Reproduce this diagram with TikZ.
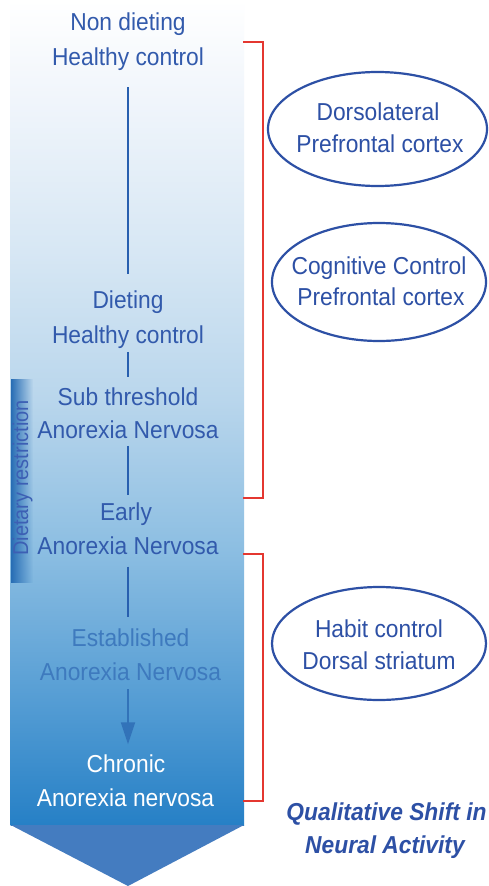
\documentclass[tikz,border=0pt]{standalone}
\usepackage{fontspec}
\setmainfont{Liberation Sans}[FakeStretch=0.93]
\usetikzlibrary{arrows.meta,fadings,shapes.geometric}
\definecolor{txtblue}{RGB}{50,90,172}
\definecolor{estblue}{RGB}{62,122,190}
\definecolor{linblue}{RGB}{40,95,175}
\definecolor{arrblue}{RGB}{50,115,185}
\definecolor{ellblue}{RGB}{45,80,165}
\definecolor{redbr}{RGB}{228,55,48}
\definecolor{headblue}{RGB}{68,124,192}
\definecolor{barblue}{RGB}{38,108,180}
\definecolor{bartxt}{RGB}{60,95,180}
\definecolor{s0}{RGB}{38,128,198}
\definecolor{s1}{RGB}{85,157,212}
\definecolor{s2}{RGB}{140,190,226}
\definecolor{s3}{RGB}{185,214,236}
\definecolor{s4}{RGB}{215,231,244}
\definecolor{s5}{RGB}{240,245,251}
\definecolor{s6}{RGB}{255,255,255}
\pgfdeclareverticalshading{shaftshade}{100bp}{color(0bp)=(s0); color(25bp)=(s0); color(32.6bp)=(s1); color(41.7bp)=(s2); color(50.8bp)=(s3); color(59.8bp)=(s4); color(68.9bp)=(s5); color(75bp)=(s6); color(100bp)=(s6)}
\tikzset{
  shtxt/.style={font=\fontsize{24.5}{30}\selectfont, text=txtblue, inner sep=0pt, text height=17.5pt, text depth=5pt, anchor=base},
  eltxt/.style={font=\fontsize{24.5}{30}\selectfont, text=ellblue, inner sep=0pt, anchor=base},
  conn/.style={draw=linblue, line width=1.8pt},
  ell/.style={draw=ellblue, line width=2.2pt, ellipse, inner sep=0pt},
  bracket/.style={draw=redbr, line width=1.8pt}
}
\begin{document}
\begin{tikzpicture}[x=1pt,y=-1pt]
\useasboundingbox (0,0) rectangle (488,886);
\fill[white] (0,0) rectangle (488,886);
% shaft
\shade[shading=shaftshade] (10.7,0) rectangle (244,825);
\fill[headblue] (10.7,825) -- (244,825) -- (128,886) -- cycle;
% dietary restriction bar
\fill[barblue, path fading=east] (10.7,379) rectangle (33,583);
\node[rotate=90, font=\fontsize{21.5}{26}\selectfont, text=bartxt, inner sep=0pt, text height=15.7pt, text depth=4.5pt] (dr) at (22.5,478) {Dietary restriction};
% stage texts
\node[shtxt] (nd) at (128,30) {Non dieting};
\node[shtxt] (hc1) at (128,65) {Healthy control};
\node[shtxt] (dt) at (128,308) {Dieting};
\node[shtxt] (hc2) at (128,343) {Healthy control};
\node[shtxt] (st) at (128,405) {Sub threshold};
\node[shtxt] (an1) at (128,438) {Anorexia Nervosa};
\node[shtxt] (ea) at (126,520) {Early};
\node[shtxt] (an2) at (128,554) {Anorexia Nervosa};
\node[shtxt, text=estblue] (es) at (130.5,646) {Established};
\node[shtxt, text=estblue] (an3) at (130.5,680) {Anorexia Nervosa};
\node[shtxt, text=white] (ch) at (126,772) {Chronic};
\node[shtxt, text=white] (an4) at (125.5,806) {Anorexia nervosa};
% connectors
\draw[conn, shorten <=17pt, shorten >=16pt] (hc1.south) -- (hc1.south |- dt.north);
\draw[conn, shorten <=3.7pt, shorten >=10pt] (hc2.south) -- (hc2.south |- st.north);
\draw[conn, shorten <=2.7pt, shorten >=7pt] (an1.south) -- (an1.south |- ea.north);
\draw[conn, shorten <=7.4pt, shorten >=11pt] (an2.south) -- (an2.south |- es.north);
\draw[draw=arrblue, line width=1.8pt, -{Triangle[width=14pt,length=22pt]}, shorten <=4pt, shorten >=10pt] (an2.south |- an3.south) -- (an2.south |- ch.north);
% brackets
\draw[bracket] (243,42) -| (263,498) -- (243,498);
\draw[bracket] (243,554) -| (263,801) -- (243,801);
% ellipses
\node[ell, minimum width=219pt, minimum height=114pt] (e1) at (377.5,129) {};
\node[eltxt] (e1a) at (378,120) {Dorsolateral};
\node[eltxt] (e1b) at (380,152) {Prefrontal cortex};
\node[ell, minimum width=214pt, minimum height=118pt] (e2) at (379,282) {};
\node[eltxt] (e2a) at (379,274) {Cognitive Control};
\node[eltxt] (e2b) at (381,305) {Prefrontal cortex};
\node[ell, minimum width=214pt, minimum height=113pt] (e3) at (379,643.5) {};
\node[eltxt] (e3a) at (379,637) {Habit control};
\node[eltxt] (e3b) at (379,669) {Dorsal striatum};
% caption
\node[eltxt, font=\fontsize{24.5}{30}\selectfont\bfseries\itshape] (q1) at (386.5,820) {Qualitative Shift in};
\node[eltxt, font=\fontsize{24.5}{30}\selectfont\bfseries\itshape] (q2) at (385,853) {Neural Activity};
\end{tikzpicture}
\end{document}
